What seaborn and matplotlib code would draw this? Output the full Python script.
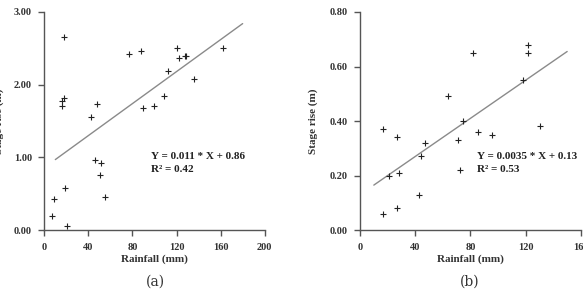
import numpy as np
import pandas as pd
import matplotlib
matplotlib.use("Agg")
import matplotlib.pyplot as plt
import seaborn as sns

# ---- data (a)
rain_a = [7, 9, 19, 21, 18, 16, 18, 16.5, 42, 48, 46, 51.5, 50.5, 55, 77, 88, 90, 100,
          108.5, 112, 120.5, 122.5, 127.5, 128.5, 135.5, 162.5]
stage_a = [0.20, 0.43, 0.58, 0.06, 2.66, 1.78, 1.81, 1.70, 1.55, 1.74, 0.96, 0.92, 0.76,
           0.46, 2.42, 2.47, 1.68, 1.70, 1.84, 2.19, 2.50, 2.37, 2.39, 2.39, 2.08, 2.50]
slope_a, icpt_a, r2_a = 0.011, 0.86, 0.42
fit_x_a = [10, 180]

# ---- data (b)
rain_b = [17, 17, 21, 27, 27, 28, 42.5, 44, 47, 64, 71, 72.5, 74.5, 82, 85.5, 95.5,
          118, 121.5, 122, 130.5]
stage_b = [0.37, 0.06, 0.20, 0.34, 0.08, 0.21, 0.13, 0.27, 0.32, 0.49, 0.33, 0.22, 0.40,
           0.65, 0.36, 0.35, 0.55, 0.68, 0.65, 0.38]
slope_b, icpt_b, r2_b = 0.0035, 0.13, 0.53
fit_x_b = [10, 150]

xticks_a = [0, 40, 80, 120, 160, 200]
yticks_a = [0.0, 1.0, 2.0, 3.0]
xticks_b = [0, 40, 80, 120, 160]
yticks_b = [0.0, 0.2, 0.4, 0.6, 0.8]
xlabel = "Rainfall (mm)"
ylabel = "Stage rise (m)"
eq_a = "Y = 0.011 * X + 0.86"
eq_b = "Y = 0.0035 * X + 0.13"
panel_labels = ["(a)", "(b)"]

sns.set_style("ticks")
plt.rcParams["font.family"] = ["Liberation Serif", "DejaVu Serif"]
plt.rcParams["font.weight"] = "bold"

fig = plt.figure(figsize=(5.83, 2.92), dpi=100)
ax_a = fig.add_axes([0.076, 0.212, 0.378, 0.747])
ax_b = fig.add_axes([0.6175, 0.212, 0.379, 0.747])

spine_col = "#555555"
tick_fs = 7.5

def draw(ax, rain, stage, slope, icpt, r2, fitx, xt, yt, eq, tx, ty, dy, ylabx):
    df = pd.DataFrame({"x": rain, "y": stage})
    sns.scatterplot(data=df, x="x", y="y", marker="+", s=20, color="#222222",
                    linewidth=0.8, ax=ax, zorder=3)
    fx = np.array(fitx, dtype=float)
    dfl = pd.DataFrame({"x": fx, "y": slope * fx + icpt})
    sns.lineplot(data=dfl, x="x", y="y", color="#8a8a8a", linewidth=1.0, ax=ax)
    ax.set_xlim(xt[0], xt[-1])
    ax.set_ylim(yt[0], yt[-1])
    ax.set_xticks(xt)
    ax.set_yticks(yt)
    ax.set_xticklabels([f"{v:g}" for v in xt], fontsize=tick_fs, fontweight="bold", color="#333333")
    ax.set_yticklabels([f"{v:.2f}" for v in yt], fontsize=tick_fs, fontweight="bold", color="#333333")
    for s in ["top", "right"]:
        ax.spines[s].set_visible(False)
    for s in ["left", "bottom"]:
        ax.spines[s].set_color(spine_col)
        ax.spines[s].set_linewidth(1.0)
    ax.tick_params(axis="both", direction="out", length=4, width=1.0, color=spine_col, pad=5)
    ax.set_xlabel(xlabel, fontsize=8, fontweight="bold", color="#333333", labelpad=2)
    ax.set_ylabel(ylabel, fontsize=8, fontweight="bold", color="#333333")
    ax.yaxis.set_label_coords(ylabx, 0.5)
    ax.text(tx, ty, eq, fontsize=8, fontweight="bold", color="#222222", va="center")
    ax.text(tx, ty - dy, f"R² = {r2:.2f}", fontsize=8, fontweight="bold", color="#222222", va="center")

draw(ax_a, rain_a, stage_a, slope_a, icpt_a, r2_a, fit_x_a, xticks_a, yticks_a, eq_a,
     97, 1.01, 0.17, -0.185)
draw(ax_b, rain_b, stage_b, slope_b, icpt_b, r2_b, fit_x_b, xticks_b, yticks_b, eq_b,
     85, 0.269, 0.046, -0.19)

fig.text(0.266, 0.035, panel_labels[0], fontsize=10, fontweight="normal",
         family=["DejaVu Serif"], ha="center", va="center", color="#333333")
fig.text(0.805, 0.035, panel_labels[1], fontsize=10, fontweight="normal",
         family=["DejaVu Serif"], ha="center", va="center", color="#333333")

fig.savefig("out.png", dpi=100)
